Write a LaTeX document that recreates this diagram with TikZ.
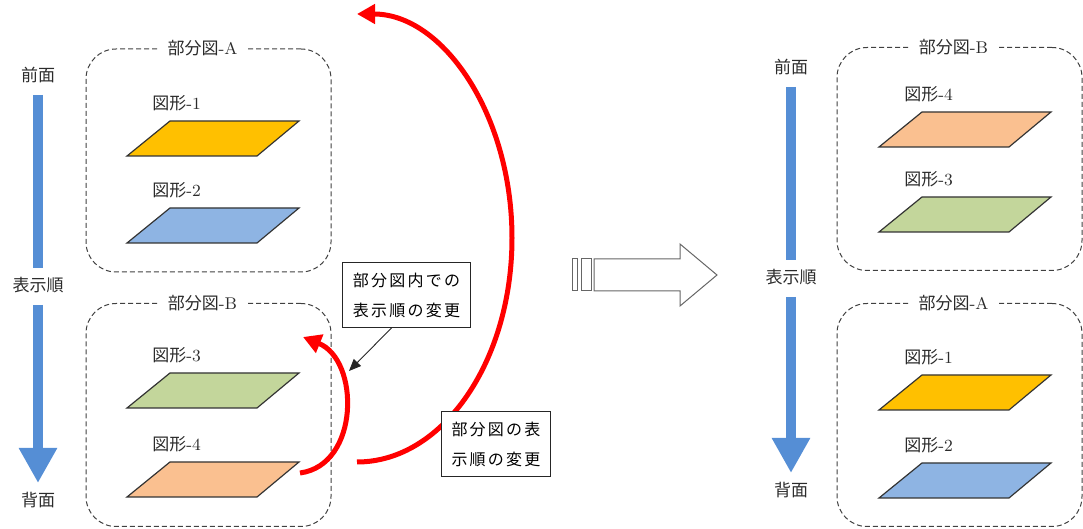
\documentclass[tikz,border=0pt]{standalone}
\usepackage{fontspec}
\newfontfamily\jp{Noto Sans CJK JP}
\newfontfamily\jpwide[LetterSpace=14]{Noto Sans CJK JP}
\usetikzlibrary{arrows.meta,calc}
\definecolor{cBar}{HTML}{558ED5}
\definecolor{cFigA}{HTML}{FFC000}
\definecolor{cFigB}{HTML}{8EB4E3}
\definecolor{cFigC}{HTML}{C3D69B}
\definecolor{cFigD}{HTML}{FAC090}
\definecolor{cMove}{HTML}{FF0000}
\definecolor{cInk}{HTML}{2B2B2B}

\begin{document}
\begin{tikzpicture}[
  x=0.5pt, y=-0.5pt,
  font=\fontsize{8.5}{10}\selectfont, text=cInk,
  grp/.style={draw=black!75, dash pattern=on 2.5pt off 1.5pt, line width=.5pt,
              rounded corners=15pt, minimum width=122.5pt, minimum height=111.5pt},
  grpttl/.style={fill=white, inner xsep=4.5pt, inner ysep=1pt},
  fig/.style={draw=black!80, line width=.6pt},
  figlbl/.style={anchor=west, inner sep=0pt},
  ord/.style={font=\fontsize{8.5}{10}\selectfont\jp},
  bar/.style={draw=cBar, line width=5pt, shorten <=10pt, shorten >=8.5pt},
  barhead/.style={-{Triangle[length=17.5pt,width=18pt]}},
  move/.style={draw=cMove, line width=2.5pt, -{Triangle[length=9pt,width=9.5pt]}},
  note/.style={draw=black!85, line width=.5pt, fill=white, align=left, text=black,
               inner sep=5pt, font=\fontsize{8}{15}\selectfont\jpwide},
  ptr/.style={-{Triangle[length=6pt,width=5pt]}, line width=.45pt, draw=black!85},
  blockarr/.style={draw=black!60, fill=white, line width=.5pt},
]
\useasboundingbox (0,0) rectangle (1083,529);

% ---------------- macros ----------------
\newcommand{\grpbox}[4]{%
  \node[grp] (#1) at (#2,#3) {};
  \node[grpttl] (#1ttl) at ([xshift=-3pt]#1.north) {{\jp 部分図}-#4};}
\newcommand{\zukei}[5]{%
  \draw[fig, fill=#4] (#2,#3) coordinate (#1) -- ++(130,0) -- ++(42,-35)
    -- ++(-129,0) -- cycle;
  \node[figlbl] (#1lbl) at (#2+25,#3-53) {{\jp 図形}-#5};}

% ---------------- before ----------------
\node[ord] (lfront) at (38,75) {前面};
\node[ord] (lorder) at (38,285) {表示順};
\node[ord] (lback) at (38,500) {背面};
\draw[bar] (lfront.center) -- (lorder.center);
\draw[bar, barhead] (lorder.center) -- (lback.center);

\grpbox{lA}{208.5}{160.5}{A}
\grpbox{lB}{208.5}{415}{B}
\zukei{lf1}{127}{156}{cFigA}{1}
\zukei{lf2}{127}{243}{cFigB}{2}
\zukei{lf3}{127}{408}{cFigC}{3}
\zukei{lf4}{127}{497}{cFigD}{4}

% moves
\coordinate (s4) at (300,473);
\coordinate (s3) at (303,337);
\draw[move] (s4) .. controls (360,465) and (360,360) .. (s3);
\coordinate (b4) at (357,462);
\draw[move] (b4) arc[start angle=90, end angle=-90, x radius=155, y radius=224];

\node[note] (note1) at (406.5,295) {部分図内での\\表示順の変更};
\coordinate (tgt) at (349,371);
\draw[ptr] ([xshift=-7.5pt]note1.south) -- (tgt);
\node[note] (note2) at (496,444) {部分図の表\\示順の変更};

% ---------------- block arrow ----------------
\draw[blockarr] (572,259) rectangle (577,291);
\draw[blockarr] (581,259) rectangle (591,291);
\draw[blockarr] (594,259) -- (680,259) -- (680,244) -- (717,275) -- (680,306)
  -- (680,291) -- (594,291) -- cycle;

% ---------------- after ----------------
\node[ord] (rfront) at (791,67) {前面};
\node[ord] (rorder) at (791,277) {表示順};
\node[ord] (rback) at (791,490) {背面};
\draw[bar] (rfront.center) -- (rorder.center);
\draw[bar, barhead] (rorder.center) -- (rback.center);

\grpbox{rB}{959.5}{159}{B}
\grpbox{rA}{959.5}{415}{A}
\zukei{rf4}{879}{147}{cFigD}{4}
\zukei{rf3}{879}{232}{cFigC}{3}
\zukei{rf1}{879}{410}{cFigA}{1}
\zukei{rf2}{879}{498}{cFigB}{2}

\end{tikzpicture}
\end{document}
